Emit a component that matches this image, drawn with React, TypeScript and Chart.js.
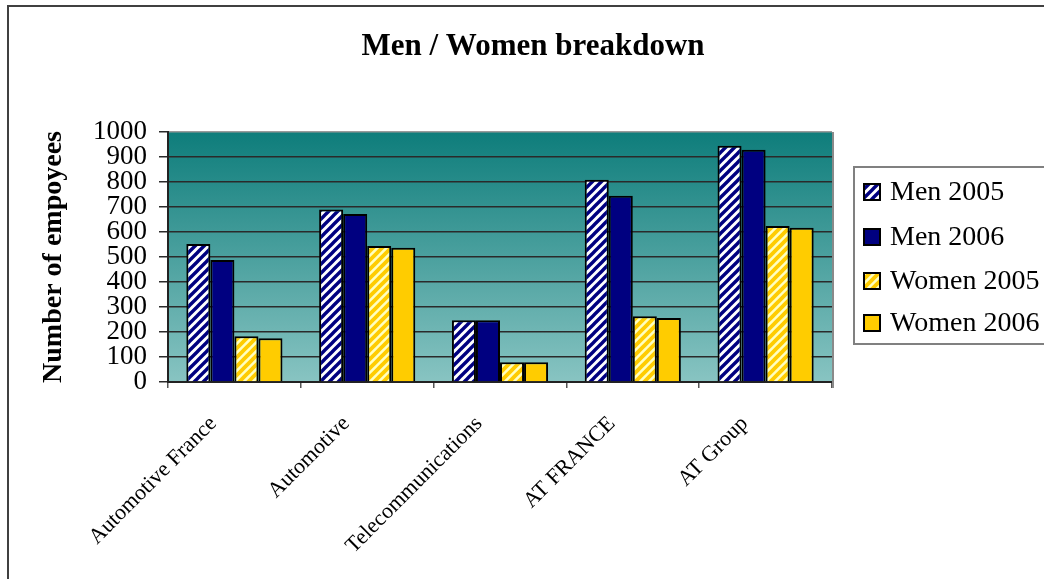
import React, { useEffect, useRef } from "react";
import { Chart, registerables } from "chart.js";

Chart.register(...registerables);

// Workforce figures per business unit
const categories = ["Automotive France", "Automotive", "Telecommunications", "AT FRANCE", "AT Group"];
const men2005 = [552, 690, 247, 809, 945];
const men2006 = [488, 672, 247, 745, 929];
const women2005 = [183, 544, 79, 263, 624];
const women2006 = [175, 537, 79, 256, 617];
const seriesNames = ["Men 2005", "Men 2006", "Women 2005", "Women 2006"];
const chartTitle = "Men / Women breakdown";
const yAxisTitle = "Number of empoyees";

const NAVY = "#000080";
const GOLD = "#FFCC00";
const PALE = "#FFFFC0";
const SERIF = "'Liberation Serif', 'Times New Roman', serif";

// Diagonal "/" hatch pattern used for the 2005 series
function makeStripes(bg: string, fg: string, size: number, width: number): CanvasPattern | string {
  const c = document.createElement("canvas");
  c.width = size;
  c.height = size;
  const g = c.getContext("2d");
  if (!g) return bg;
  g.fillStyle = bg;
  g.fillRect(0, 0, size, size);
  g.strokeStyle = fg;
  g.lineWidth = width;
  g.lineCap = "square";
  const segs = [
    [0, size, size, 0],
    [-size / 2, size / 2, size / 2, -size / 2],
    [size / 2, size * 1.5, size * 1.5, size / 2],
  ];
  for (const [x1, y1, x2, y2] of segs) {
    g.beginPath();
    g.moveTo(x1, y1);
    g.lineTo(x2, y2);
    g.stroke();
  }
  const p = g.createPattern(c, "repeat");
  return p || bg;
}

const framePlugin = {
  id: "frame",
  beforeDraw(chart: any) {
    const { ctx, chartArea } = chart;
    ctx.save();
    ctx.fillStyle = "#ffffff";
    ctx.fillRect(0, 0, chart.width, chart.height);
    // outer chart border (left and top visible)
    ctx.strokeStyle = "#404040";
    ctx.lineWidth = 2;
    ctx.beginPath();
    ctx.moveTo(8, chart.height + 2);
    ctx.lineTo(8, 6);
    ctx.lineTo(chart.width + 2, 6);
    ctx.stroke();
    // plot background gradient
    const grad = ctx.createLinearGradient(0, chartArea.top, 0, chartArea.bottom);
    grad.addColorStop(0, "#0E7D7B");
    grad.addColorStop(1, "#88C4C2");
    ctx.fillStyle = grad;
    ctx.fillRect(chartArea.left, chartArea.top, chartArea.right - chartArea.left, chartArea.bottom - chartArea.top);
    // chart title
    ctx.fillStyle = "#000000";
    ctx.font = `bold 31px ${SERIF}`;
    ctx.textAlign = "center";
    ctx.textBaseline = "middle";
    ctx.fillText(chartTitle, 533, 47);
    ctx.restore();
  },
  afterDatasetsDraw(chart: any) {
    const { ctx, chartArea } = chart;
    ctx.save();
    ctx.strokeStyle = "#8a8a8a";
    ctx.lineWidth = 2;
    ctx.beginPath();
    ctx.moveTo(chartArea.right + 1, chartArea.top);
    ctx.lineTo(chartArea.right + 1, chartArea.bottom + 6);
    ctx.stroke();
    ctx.restore();
  },
  afterDraw(chart: any) {
    const { ctx } = chart;
    ctx.save();
    // legend box
    const bx = 854, by = 167, bw = 200, bh = 177;
    ctx.fillStyle = "#ffffff";
    ctx.fillRect(bx, by, bw, bh);
    ctx.strokeStyle = "#808080";
    ctx.lineWidth = 2;
    ctx.strokeRect(bx, by, bw, bh);
    const rows = [192, 237, 281, 323];
    ctx.font = `28px ${SERIF}`;
    ctx.textBaseline = "middle";
    ctx.textAlign = "left";
    chart.data.datasets.forEach((ds: any, i: number) => {
      const y = rows[i];
      ctx.fillStyle = ds.backgroundColor;
      ctx.fillRect(864, y - 8, 16, 16);
      ctx.strokeStyle = "#000000";
      ctx.lineWidth = 2;
      ctx.strokeRect(864, y - 8, 16, 16);
      ctx.fillStyle = "#000000";
      ctx.fillText(ds.label, 890, y + 1);
    });
    ctx.restore();
  },
};

export default function App() {
  const ref = useRef<HTMLCanvasElement | null>(null);

  useEffect(() => {
    if (!ref.current) return;
    const menHatch = makeStripes("#ffffff", NAVY, 9, 3.4);
    const womenHatch = makeStripes(PALE, GOLD, 9, 3.8);
    const chart = new Chart(ref.current, {
      type: "bar",
      data: {
        labels: categories,
        datasets: [
          { label: seriesNames[0], data: men2005, backgroundColor: menHatch as any },
          { label: seriesNames[1], data: men2006, backgroundColor: NAVY },
          { label: seriesNames[2], data: women2005, backgroundColor: womenHatch as any },
          { label: seriesNames[3], data: women2006, backgroundColor: GOLD },
        ].map((d) => ({
          ...d,
          borderColor: "#000000",
          borderWidth: 2,
          categoryPercentage: 0.724,
          barPercentage: 1.0,
        })),
      },
      options: {
        responsive: false,
        animation: false,
        devicePixelRatio: 1,
        layout: { padding: { left: 8, right: 212, top: 132, bottom: 0 } },
        plugins: {
          legend: { display: false },
          tooltip: { enabled: false },
          title: { display: false },
        },
        scales: {
          x: {
            grid: {
              offset: true,
              drawOnChartArea: false,
              drawTicks: true,
              tickLength: 6,
              color: "#555555",
              lineWidth: 1.5,
            },
            border: { display: true, color: "#222222", width: 2 },
            ticks: {
              color: "#000000",
              font: { family: SERIF, size: 22 },
              minRotation: 45,
              maxRotation: 45,
              labelOffset: -21,
              padding: 23,
              autoSkip: false,
            },
            afterFit(scale: any) {
              scale.height = 197;
            },
          },
          y: {
            min: 0,
            max: 1000,
            grid: {
              color: (c: any) => (c.tick && c.tick.value === 1000 ? "#9a9a9a" : "#2a2a2a"),
              tickColor: "#2a2a2a",
              lineWidth: 1.5,
              tickLength: 9,
            },
            border: { display: true, color: "#222222", width: 2 },
            ticks: {
              stepSize: 100,
              autoSkip: false,
              color: "#000000",
              font: { family: SERIF, size: 27 },
              padding: 12,
              callback: (v: any) => String(v),
            },
            title: {
              display: true,
              text: yAxisTitle,
              color: "#000000",
              font: { family: SERIF, size: 28, weight: "bold" },
              padding: { top: 29, bottom: 0 },
            },
            afterFit(scale: any) {
              scale.width = 160;
            },
          },
        },
      } as any,
      plugins: [framePlugin],
    });
    return () => chart.destroy();
  }, []);

  return (
    <div style={{ position: "absolute", left: 0, top: 0, width: 1044, height: 579, overflow: "hidden" }}>
      <canvas ref={ref} width={1044} height={579} style={{ display: "block" }} />
    </div>
  );
}
